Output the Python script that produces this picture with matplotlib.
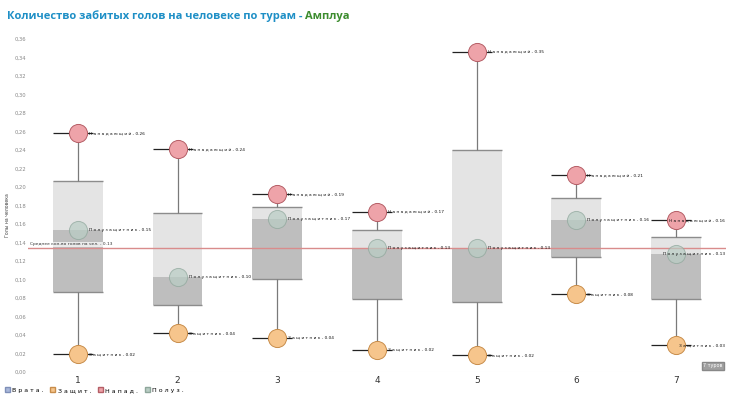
import numpy as np
import matplotlib.pyplot as plt
from matplotlib.patches import Patch

plt.rcParams['font.family'] = ['DejaVu Sans']

rounds = [1, 2, 3, 4, 5, 6, 7]
forward = [0.258, 0.241, 0.192, 0.173, 0.346, 0.213, 0.164]
midfield = [0.154, 0.103, 0.165, 0.134, 0.134, 0.164, 0.128]
defender = [0.019, 0.042, 0.037, 0.024, 0.018, 0.084, 0.029]
average = 0.134

roleNames = {"fwd": "Нападающий", "mid": "Полузащитник", "def": "Защитник"}
legendLabels = ["Врата.", "Защит.", "Напад.", "Полуз."]
legendColors = ["#A9B8DA", "#F6C58C", "#EEA3A9", "#B9CDC4"]
legendEdges = ["#7F8FB8", "#C88D4B", "#B55E66", "#8EA69B"]


def spaced(word):
    return " ".join(word)


figure = plt.figure(figsize=(7.3, 3.96), dpi=100)
axis = figure.add_axes([28 / 730, (396 - 372) / 396, 698 / 730, (372 - 29.8) / 396])

labels = []
xs = np.arange(len(rounds))
for i, x in enumerate(xs):
    vals = [defender[i], midfield[i], forward[i]]
    q1, med, q3 = np.percentile(vals, [25, 50, 75])
    low, high = min(vals), max(vals)

    axis.bar(x, med - q1, bottom=q1, width=0.5, color="#BEBEBE", zorder=1)
    axis.bar(x, q3 - med, bottom=med, width=0.5, color="#E4E4E4", zorder=1)
    axis.hlines([q1, q3], x - 0.25, x + 0.25, color="#8C8C8C", linewidth=1, zorder=2)
    axis.vlines(x, q3, high, color="#7A7A7A", linewidth=0.9, zorder=2)
    axis.vlines(x, low, q1, color="#7A7A7A", linewidth=0.9, zorder=2)
    axis.hlines([high, low], x - 0.25, x + 0.15, color="#222222", linewidth=0.9, zorder=2)

    axis.scatter(x, defender[i], s=170, color=legendColors[1], edgecolor=legendEdges[1],
                 linewidth=0.7, zorder=4)
    axis.scatter(x, forward[i], s=170, color=legendColors[2], edgecolor=legendEdges[2],
                 linewidth=0.7, zorder=4)
    axis.scatter(x, midfield[i], s=170, color=legendColors[3], edgecolor=legendEdges[3],
                 linewidth=0.7, alpha=0.7, zorder=4)

    for key, v in [("fwd", forward[i]), ("mid", midfield[i]), ("def", defender[i])]:
        t = axis.text(x + 0.11, v, f"{spaced(roleNames[key])} - {v:.2f}", fontsize=3.1,
                      color="#111111", ha="left", va="center", zorder=5)
        labels.append(t)

axis.axhline(average, color="#D98C8C", linewidth=1, zorder=3)
axis.text(-0.48, average + 0.002, f"Среднее кол-во голов на чел. - {average:.2f}", fontsize=3.2,
          color="#333333", ha="left", va="bottom", zorder=5,
          bbox=dict(facecolor="white", edgecolor="none", alpha=0.7, pad=0.3))
axis.axhline(0, color="#EEEEEE", linewidth=0.8, zorder=0)

axis.set_xlim(-0.5, len(rounds) - 0.5)
axis.set_ylim(0, 0.37)
axis.set_xticks(xs)
axis.set_xticklabels([str(r) for r in rounds], fontsize=6.5, color="#333333")
yticks = np.arange(0, 0.361, 0.02)
axis.set_yticks(yticks)
axis.set_yticklabels([f"{t:.2f}".replace(".", ",") for t in yticks], fontsize=3.8, color="#888888")
axis.tick_params(length=0, pad=2)
axis.tick_params(axis="y", pad=1)
axis.tick_params(axis="x", pad=3)
for spine in axis.spines.values():
    spine.set_visible(False)

figure.text(8 / 730, 1 - 215 / 396, "Голы на человека", rotation=90, fontsize=3.3,
            color="#444444", ha="center", va="center")

titleMain = figure.text(7 / 730, 1 - 16 / 396, "Количество забитых голов на человеке по турам - ",
                        fontsize=8.0, fontweight="bold", family="Open Sans", color="#1E8FC6",
                        ha="left", va="center")
figure.canvas.draw()
renderer = figure.canvas.get_renderer()
box = titleMain.get_window_extent(renderer=renderer)
figure.text(box.x1 / figure.bbox.width, 1 - 16 / 396, "Амплуа", fontsize=8.0,
            fontweight="bold", family="Open Sans", color="#3C8C2E", ha="left", va="center")

# labels that would run past the right edge are pulled back inside, as in the original
for t in labels:
    ext = t.get_window_extent(renderer=renderer)
    if ext.x1 > 726:
        t.set_x(axis.get_xlim()[1] - 0.01)
        t.set_ha("right")

figure.text(713 / 730, 1 - 366 / 396, "7 туров", fontsize=3.5, color="white", ha="center",
            va="center", bbox=dict(facecolor="#A0A0A0", edgecolor="#888888", pad=0.8))

handles = [Patch(facecolor=c, edgecolor=e, label=spaced(l))
           for c, e, l in zip(legendColors, legendEdges, legendLabels)]
figure.legend(handles=handles, loc="lower left", bbox_to_anchor=(0.0, -0.005), ncol=4,
              frameon=False, fontsize=4.5, handlelength=0.8, handleheight=0.8,
              handletextpad=0.4, columnspacing=1.0, borderpad=0.3)

figure.savefig("out.png", dpi=100)
